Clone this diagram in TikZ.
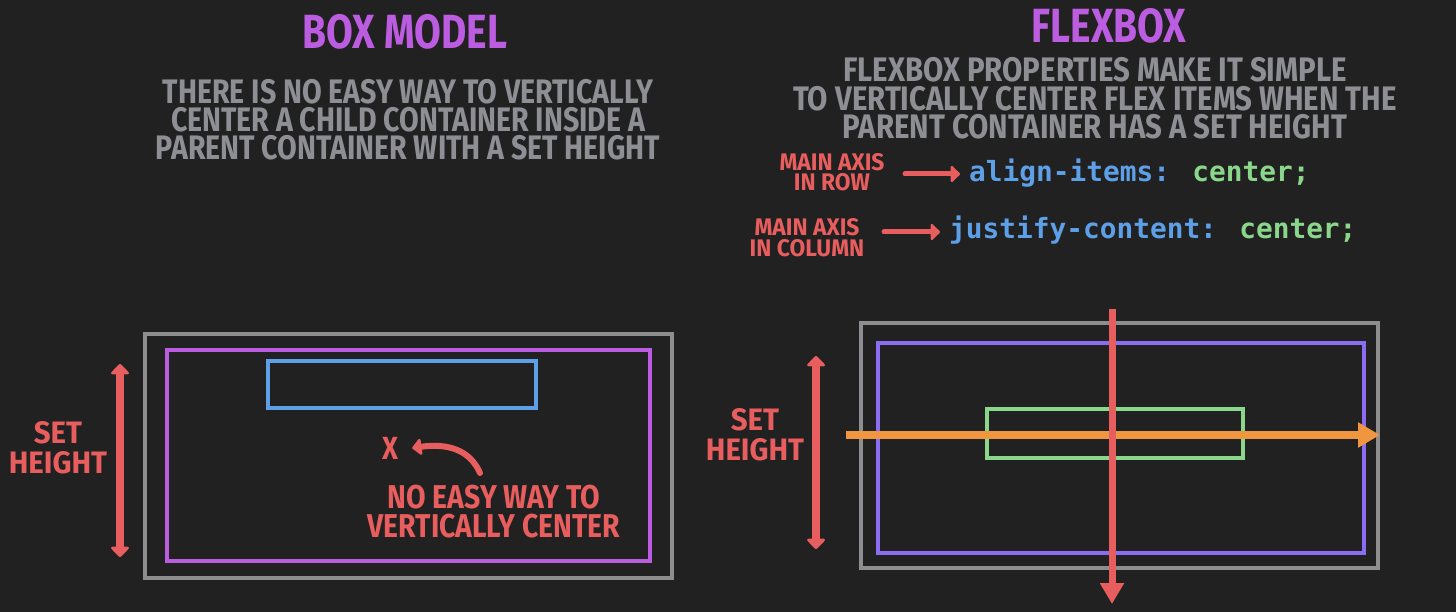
\documentclass[tikz,border=0pt]{standalone}
\usepackage{fontspec}
\newfontfamily\handT{Fira Sans}[FakeStretch=0.81]
\newfontfamily\handL{Fira Sans}[FakeStretch=0.84]
\newfontfamily\handR{Fira Sans}[FakeStretch=0.865]
\newfontfamily\handN{Fira Sans}[FakeStretch=0.86]
\newfontfamily\handW{Fira Sans}[FakeStretch=0.95]
\newfontfamily\codefont{DejaVu Sans Mono}
\usetikzlibrary{arrows.meta}
\definecolor{bg}{HTML}{212121}
\definecolor{boxgray}{HTML}{8E8E90}
\definecolor{txtgray}{HTML}{8E8F94}
\definecolor{purp}{HTML}{BC5CE0}
\definecolor{violet}{HTML}{8C6CF2}
\definecolor{hred}{HTML}{E85D5D}
\definecolor{horange}{HTML}{F09640}
\definecolor{cblue}{HTML}{5EA0E8}
\definecolor{cgreen}{HTML}{8AD68B}
\tikzset{
  title/.style={text=purp, inner sep=0pt, font=\handT\bfseries\fontsize{48}{48}\selectfont},
  desc/.style={text=txtgray, inner sep=0pt, align=center, font=\handL\bfseries\fontsize{34}{28}\selectfont},
  redlbl/.style={text=hred, inner sep=0pt, align=center, font=\handW\bfseries\fontsize{31}{30}\selectfont},
  smalllbl/.style={text=hred, inner sep=0pt, align=center, font=\handW\bfseries\fontsize{24}{20.5}\selectfont},
  code/.style={inner sep=0pt, anchor=base west, font=\codefont\bfseries\fontsize{27.8}{28}\selectfont},
  frame/.style={draw=#1, line width=3.5pt, inner sep=0pt, fill=none},
  harrow/.style={draw=hred, line width=6pt, line cap=round, -{Triangle[round,length=10pt,width=19pt]}},
  dharrow/.style={draw=hred, line width=7.5pt, {Triangle[round,length=11pt,width=21pt]}-{Triangle[round,length=11pt,width=21pt]}},
}
\begin{document}
\begin{tikzpicture}[x=1pt,y=-1pt]
\fill[bg] (0,0) rectangle (1456,612);
\useasboundingbox (0,0) rectangle (1456,612);

% titles
\node[title] (t1) at (405,32) {BOX MODEL};
\node[title] (t2) at (1109,26) {FLEXBOX};

% descriptions
\node[desc] (d1) at (408,120) {THERE IS NO EASY WAY TO VERTICALLY\\CENTER A CHILD CONTAINER INSIDE A\\PARENT CONTAINER WITH A SET HEIGHT};
\node[desc, font=\handR\bfseries\fontsize{34}{28.5}\selectfont] (d2) at (1095,98.5) {FLEXBOX PROPERTIES MAKE IT SIMPLE\\TO VERTICALLY CENTER FLEX ITEMS WHEN THE\\PARENT CONTAINER HAS A SET HEIGHT};

% flexbox properties
\node[smalllbl] (ax1) at (832,172) {MAIN AXIS\\IN ROW};
\node[smalllbl] (ax2) at (807,237.5) {MAIN AXIS\\IN COLUMN};
\node[code] (c1) at (969,182) {\textcolor{cblue}{align-items:} \textcolor{cgreen}{center;}};
\node[code] (c2) at (949,239) {\textcolor{cblue}{justify-content:} \textcolor{cgreen}{center;}};
\coordinate (a1s) at (905,174);
\coordinate (a2s) at (884,232);
\draw[harrow, line width=5pt] (a1s) -- ([xshift=-9pt]c1.west |- a1s);
\draw[harrow, line width=5pt] (a2s) -- ([xshift=-9pt]c2.west |- a2s);

% left: box model
\node[frame=boxgray, minimum width=527pt, minimum height=244pt] (lgray) at (408.5,456) {};
\node[frame=purp, minimum width=483pt, minimum height=211pt] (lpurp) at (408.5,455.5) {};
\node[frame=cblue, minimum width=268pt, minimum height=47pt] (lblue) at (402,384.5) {};
\coordinate (la1) at (120,364);
\coordinate (la2) at (120,557);
\draw[dharrow] (la1) -- (la2);
\node[redlbl] (lset) at (58,448) {SET\\HEIGHT};
\node[redlbl, font=\handN\bfseries\fontsize{32}{32}\selectfont] (xm) at (390,448) {X};
\node[redlbl, font=\handN\bfseries\fontsize{33}{29}\selectfont] (noeasy) at (494,512) {NO EASY WAY TO\\VERTICALLY CENTER};
\coordinate (cs) at (480,473);
\draw[harrow] (cs) .. controls (470,450) and (448,443) .. ([xshift=14pt]xm.east);

% right: flexbox
\node[frame=boxgray, minimum width=517pt, minimum height=245pt] (rgray) at (1119.5,445.5) {};
\node[frame=violet, minimum width=486pt, minimum height=210pt] (rpurp) at (1121,448) {};
\node[frame=cgreen, minimum width=256pt, minimum height=49pt] (rgreen) at (1115,433.5) {};
\coordinate (ra1) at (816,356);
\coordinate (ra2) at (816,549);
\draw[dharrow] (ra1) -- (ra2);
\node[redlbl] (rset) at (755,435) {SET\\HEIGHT};
\coordinate (oa1) at (846,435);
\coordinate (oa2) at (1380,435);
\draw[draw=horange, line width=8pt, -{Triangle[length=22pt,width=24pt]}] (oa1) -- (oa2);
\coordinate (va1) at (1112,309);
\coordinate (va2) at (1112,604);
\draw[draw=hred, line width=7pt, -{Triangle[length=21pt,width=23pt]}] (va1) -- (va2);
\end{tikzpicture}
\end{document}
